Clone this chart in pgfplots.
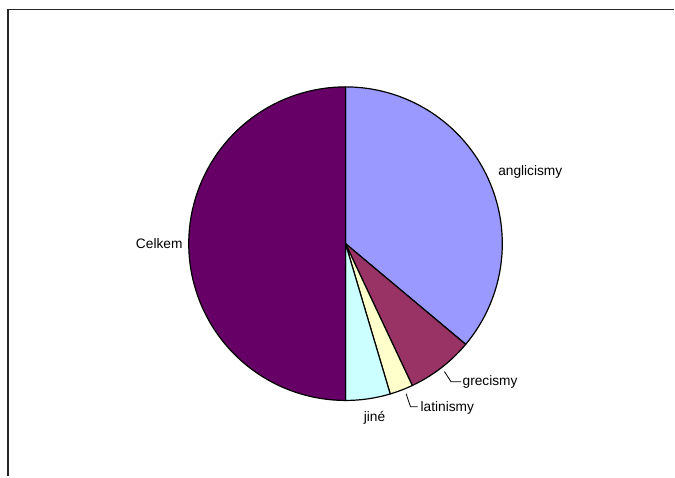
\documentclass[border=0pt]{standalone}
\usepackage{pgfplots}
\usepackage{pgfplotstable}
\pgfplotsset{compat=1.18}
\usepackage{fontspec}
\setmainfont{Liberation Sans}
\definecolor{cAng}{HTML}{9999FF}
\definecolor{cGre}{HTML}{993366}
\definecolor{cLat}{HTML}{FFFFCC}
\definecolor{cJin}{HTML}{CCFFFF}
\definecolor{cCel}{HTML}{660066}
\pgfplotstableread{
name value
anglicismy 36.1
grecismy 6.9
latinismy 2.4
jine 4.6
Celkem 50.0
}\piedata
\begin{document}
\begin{tikzpicture}
\pgfplotstablegetelem{0}{value}\of\piedata \let\vA\pgfplotsretval
\pgfplotstablegetelem{1}{value}\of\piedata \let\vB\pgfplotsretval
\pgfplotstablegetelem{2}{value}\of\piedata \let\vC\pgfplotsretval
\pgfplotstablegetelem{3}{value}\of\piedata \let\vD\pgfplotsretval
\pgfplotstablegetelem{4}{value}\of\piedata \let\vE\pgfplotsretval
\pgfmathsetmacro\tot{\vA+\vB+\vC+\vD+\vE}
\pgfmathsetmacro\aA{360*\vA/\tot}
\pgfmathsetmacro\aB{\aA+360*\vB/\tot}
\pgfmathsetmacro\aC{\aB+360*\vC/\tot}
\pgfmathsetmacro\aD{\aC+360*\vD/\tot}
\begin{axis}[
  width=506.25pt, height=357.75pt, scale only axis,
  xmin=0, xmax=675, ymin=0, ymax=477, y dir=reverse,
  hide axis, clip=false,
  every axis plot/.append style={draw=black, line width=0.9pt, samples=80, variable=\t, line join=round},
]
\path (axis cs:0,0) rectangle (axis cs:675,477);
\addplot[fill=cAng, domain=0:\aA] ({346+157*sin(t)},{244-157*cos(t)}) -- (axis cs:346,244) -- cycle;
\addplot[fill=cGre, domain=\aA:\aB] ({346+157*sin(t)},{244-157*cos(t)}) -- (axis cs:346,244) -- cycle;
\addplot[fill=cLat, domain=\aB:\aC] ({346+157*sin(t)},{244-157*cos(t)}) -- (axis cs:346,244) -- cycle;
\addplot[fill=cJin, domain=\aC:\aD] ({346+157*sin(t)},{244-157*cos(t)}) -- (axis cs:346,244) -- cycle;
\addplot[fill=cCel, domain=\aD:360] ({346+157*sin(t)},{244-157*cos(t)}) -- (axis cs:346,244) -- cycle;
% frame
\draw[line width=1.4pt, black!85] (axis cs:8,477) -- (axis cs:8,9.5) -- (axis cs:675,9.5);
% leader lines
\draw[black, line width=0.6pt] (axis cs:445,372) -- (axis cs:451.7,382.3) -- (axis cs:461.7,382.3);
\draw[black, line width=0.6pt] (axis cs:406.7,394.3) -- (axis cs:411,407.3) -- (axis cs:418.3,407.3);
% labels
\tikzset{lbl/.style={font=\fontsize{10.3}{12}\selectfont, inner sep=0pt}}
\node[lbl] at (axis cs:531,172) {anglicismy};
\node[lbl, anchor=west] at (axis cs:463,382.5) {grecismy};
\node[lbl, anchor=west] at (axis cs:421,409) {latinismy};
\node[lbl] at (axis cs:375,418) {jiné};
\node[lbl, anchor=east] at (axis cs:183,244) {Celkem};
\end{axis}
\end{tikzpicture}
\end{document}
